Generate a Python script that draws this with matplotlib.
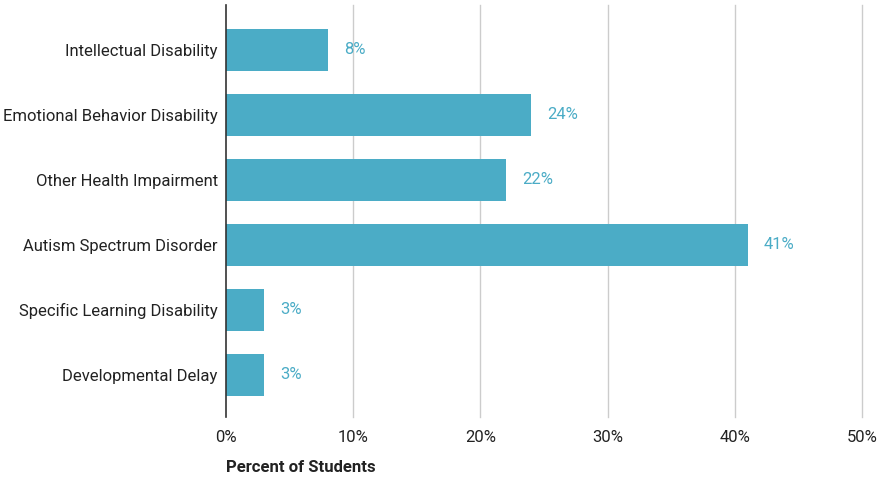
import matplotlib

matplotlib.use("Agg")
import matplotlib.pyplot as plt

categories = [
    "Intellectual Disability",
    "Emotional Behavior Disability",
    "Other Health Impairment",
    "Autism Spectrum Disorder",
    "Specific Learning Disability",
    "Developmental Delay",
]
percents = [8, 24, 22, 41, 3, 3]
x_ticks = [0, 10, 20, 30, 40, 50]

bar_color = "#4BACC6"

plt.rcParams["font.family"] = ["Roboto", "DejaVu Sans"]

fig = plt.figure(figsize=(8.78, 4.78), dpi=100)
ax = fig.add_axes([226 / 878, 1 - 417 / 478, 636 / 878, 412 / 478])

y = list(range(len(categories)))
ax.barh(y, percents, height=0.65, color=bar_color, zorder=3)
for yi, val in zip(y, percents):
    ax.annotate(f"{val}%", (val, yi), xytext=(11.5, 0), textcoords="offset points",
                va="center", ha="left", color=bar_color, fontsize=12)

ax.set_xlim(0, 50)
ax.set_ylim(len(categories) - 0.35, -0.69)
ax.set_xticks(x_ticks)
ax.set_xticklabels([f"{t}%" for t in x_ticks], fontsize=12, color="#222222")
ax.set_yticks(y)
ax.set_yticklabels(categories, fontsize=12, color="#222222")
ax.tick_params(axis="y", length=0, pad=6)
ax.tick_params(axis="x", length=0, pad=9)

for t in x_ticks[1:]:
    ax.axvline(t, color="#cccccc", linewidth=1, zorder=0, clip_on=False)
for side in ["top", "right", "bottom"]:
    ax.spines[side].set_visible(False)
ax.spines["left"].set_color("#333333")
ax.spines["left"].set_linewidth(1.2)
ax.spines["left"].set_zorder(4)

fig.text(226 / 878, 1 - 468 / 478, "Percent of Students", fontsize=12,
         fontweight="bold", ha="left", va="center", color="#222222")

fig.savefig("out.png", dpi=100)
